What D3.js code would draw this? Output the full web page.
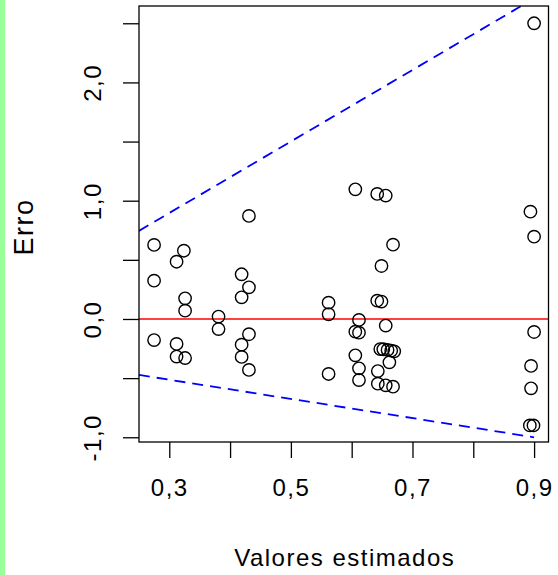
<!DOCTYPE html>
<html>
<head>
<meta charset="utf-8">
<script src="https://cdn.jsdelivr.net/npm/d3@7"></script>
<style>
  html, body { margin: 0; padding: 0; background: #fff; }
  svg { display: block; font-family: "Liberation Sans", Arial, Helvetica, sans-serif; }
</style>
</head>
<body>
<svg id="chart" width="558" height="575"></svg>
<script>
// ---- data ----
const fitted = [0.275, 0.275, 0.275, 0.324, 0.312, 0.326, 0.326, 0.312, 0.312, 0.326,
  0.381, 0.381, 0.431, 0.419, 0.431, 0.419, 0.431, 0.419, 0.419, 0.431,
  0.562, 0.562, 0.562, 0.606, 0.642, 0.656, 0.668, 0.649, 0.642, 0.649,
  0.612, 0.606, 0.612, 0.656, 0.606, 0.612, 0.612, 0.647, 0.652, 0.659,
  0.665, 0.670, 0.662, 0.643, 0.643, 0.656, 0.668,
  0.900, 0.894, 0.900, 0.900, 0.895, 0.895, 0.893, 0.899];
const residuals = [0.626, 0.324, -0.178, 0.577, 0.484, 0.175, 0.070, -0.211, -0.318, -0.330,
  0.020, -0.085, 0.871, 0.378, 0.268, 0.183, -0.129, -0.217, -0.321, -0.431,
  0.138, 0.040, -0.465, 1.096, 1.057, 1.043, 0.628, 0.448, 0.155, 0.147,
  -0.008, -0.107, -0.116, -0.056, -0.307, -0.417, -0.516, -0.254, -0.256, -0.262,
  -0.268, -0.273, -0.366, -0.440, -0.547, -0.561, -0.572,
  2.500, 0.907, 0.696, -0.110, -0.397, -0.586, -0.900, -0.900];
const bandX = [0.25, 0.9];
const upperBand = [0.745, 2.71];
const lowerBand = [-0.473, -1.0];
const referenceY = 0;
const xTicks = [0.3, 0.4, 0.5, 0.6, 0.7, 0.8, 0.9];
const xTickLabels = ["0,3", "", "0,5", "", "0,7", "", "0,9"];
const yTicks = [-1.0, -0.5, 0.0, 0.5, 1.0, 1.5, 2.0, 2.5];
const yTickLabels = ["-1,0", "", "0,0", "", "1,0", "", "2,0", ""];
const xTitle = "Valores estimados";
const yTitle = "Erro";

// ---- layout ----
const L = 139, R = 548.5, T = 6, B = 442;
const svg = d3.select("#chart");

svg.append("rect").attr("x", 0).attr("y", 0).attr("width", 5).attr("height", 575).attr("fill", "#99ff99");

const x = d3.scaleLinear().domain([0.2502, 0.9237]).range([L, R]);
const y = d3.scaleLinear().domain([-1.04, 2.646]).range([B, T]);

svg.append("clipPath").attr("id", "clip")
  .append("rect").attr("x", L).attr("y", T).attr("width", R - L).attr("height", B - T);

const plot = svg.append("g").attr("clip-path", "url(#clip)");

// reference line
plot.append("line")
  .attr("x1", L).attr("x2", R)
  .attr("y1", y(referenceY)).attr("y2", y(referenceY))
  .attr("stroke", "#ff0000").attr("stroke-width", 1.5);

// bands
const line = d3.line().x(d => x(d[0])).y(d => y(d[1]));
[upperBand, lowerBand].forEach(b => {
  plot.append("path")
    .attr("d", line(bandX.map((v, i) => [v, b[i]])))
    .attr("fill", "none").attr("stroke", "#0000ff")
    .attr("stroke-width", 1.8).attr("stroke-dasharray", "11,7");
});

// points
plot.selectAll("circle.pt").data(fitted.map((v, i) => [v, residuals[i]]))
  .enter().append("circle")
  .attr("class", "pt")
  .attr("cx", d => x(d[0])).attr("cy", d => y(d[1]))
  .attr("r", 6.2)
  .attr("fill", "none").attr("stroke", "#000").attr("stroke-width", 1.4);

// box
svg.append("rect").attr("x", L).attr("y", T).attr("width", R - L).attr("height", B - T)
  .attr("fill", "none").attr("stroke", "#000").attr("stroke-width", 1.3);

// axes
const xAxis = d3.axisBottom(x).tickValues(xTicks).tickSize(16).tickSizeOuter(0)
  .tickPadding(21).tickFormat((d, i) => xTickLabels[i]);
const gx = svg.append("g").attr("transform", `translate(0,${B})`).call(xAxis);
gx.select(".domain").remove();
gx.selectAll(".tick line").attr("stroke", "#000").attr("stroke-width", 1.3);
gx.selectAll(".tick text").attr("font-size", 24).attr("fill", "#000")
  .attr("letter-spacing", 1.5)
  .attr("font-family", "Liberation Sans, Arial, sans-serif");

const yAxis = d3.axisLeft(y).tickValues(yTicks).tickSize(16).tickSizeOuter(0)
  .tickFormat((d, i) => yTickLabels[i]);
const gy = svg.append("g").attr("transform", `translate(${L},0)`).call(yAxis);
gy.select(".domain").remove();
gy.selectAll(".tick line").attr("stroke", "#000").attr("stroke-width", 1.3);
gy.selectAll(".tick text")
  .attr("font-size", 24).attr("fill", "#000")
  .attr("letter-spacing", 1.5)
  .attr("font-family", "Liberation Sans, Arial, sans-serif")
  .attr("x", null).attr("dy", null)
  .attr("text-anchor", "middle")
  .attr("transform", "translate(-38.5,0) rotate(-90)");

// titles
svg.append("text").attr("x", (L + R) / 2 + 1).attr("y", 565.5)
  .attr("text-anchor", "middle").attr("font-size", 24).attr("letter-spacing", 1.5)
  .attr("fill", "#000").text(xTitle);
svg.append("text").attr("transform", `translate(33,${(T + B) / 2 + 3}) rotate(-90)`)
  .attr("text-anchor", "middle").attr("font-size", 27).attr("letter-spacing", 1.5)
  .attr("fill", "#000").text(yTitle);
</script>
</body>
</html>
